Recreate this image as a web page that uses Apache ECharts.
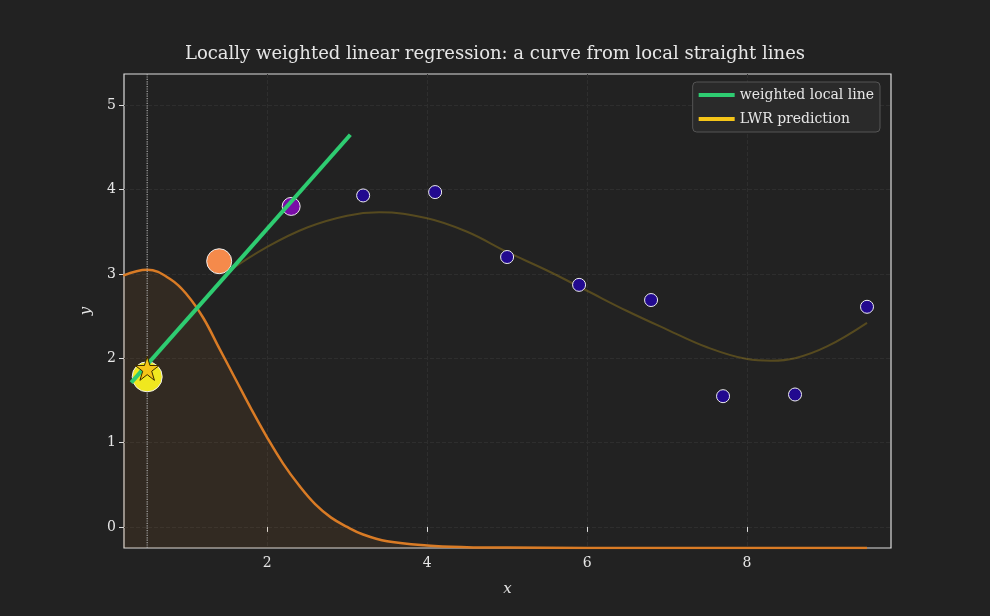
<!DOCTYPE html>
<html><head><meta charset="utf-8">
<script src="https://cdn.jsdelivr.net/npm/echarts@6/dist/echarts.min.js"></script>
<style>html,body{margin:0;background:#222;}#c{width:990px;height:616px;}</style>
</head><body><div id="c"></div>
<script>
const pointsX = [0.5,1.4,2.3,3.2,4.1,5.0,5.9,6.8,7.7,8.6,9.5];
const pointsY = [1.78,3.15,3.80,3.93,3.97,3.20,2.87,2.69,1.55,1.57,2.61];
const pointColors = ['#f0e81f','#f58a4b','#7a0ca8','#22098f','#22098f','#22098f','#22098f','#22098f','#22098f','#22098f','#22098f'];
const pointSizes = [30,25,18,13,13,13,13,13,13,13,13];
const weightX = [0.2,0.5,0.8,1.0,1.2,1.4,1.6,1.8,2.0,2.2,2.4,2.6,2.8,3.0,3.2,3.5,4.0,4.5,5.0,6.0,7.0,8.0,9.0,9.5];
const weightY = [2.98,3.05,2.93,2.75,2.48,2.12,1.76,1.40,1.06,0.75,0.49,0.27,0.11,0.0,-0.09,-0.17,-0.22,-0.24,-0.245,-0.25,-0.25,-0.25,-0.25,-0.25];
const predX = [1.5,2.0,2.5,3.0,3.4,4.0,4.5,5.0,5.5,6.0,6.5,7.0,7.5,8.0,8.3,8.6,9.0,9.5];
const predY = [3.02,3.32,3.55,3.69,3.73,3.66,3.50,3.26,3.04,2.80,2.56,2.34,2.13,1.99,1.97,2.00,2.14,2.42];
const localLineX = [0.3,3.04];
const localLineY = [1.71,4.65];
const xTicks = [2,4,6,8];
const yTicks = [0,1,2,3,4,5];
const queryX = 0.5, queryY = 1.88;

const font = 'DejaVu Serif';
const chart = echarts.init(document.getElementById('c'));
chart.setOption({
  backgroundColor:'#222222',
  animation:false,
  title:{text:'Locally weighted linear regression: a curve from local straight lines',left:'center',top:40,
    textStyle:{fontFamily:font,fontSize:18,fontWeight:'normal',color:'#e6e6e6'}},
  grid:{left:124,right:99,top:74,bottom:68,show:true,borderColor:'#dddddd',borderWidth:1.2},
  legend:{right:110,top:82,orient:'vertical',itemWidth:36,itemHeight:4,itemGap:10,
    backgroundColor:'#2a2a2a',borderColor:'#555',borderWidth:1,borderRadius:4,padding:[6,6,6,6],
    textStyle:{fontFamily:font,fontSize:14,color:'#e6e6e6'},
    data:[{name:'weighted local line',icon:'rect',itemStyle:{color:'#2ecc71'}},{name:'LWR prediction',icon:'rect',itemStyle:{color:'#f5c518'}}]},
  xAxis:{type:'value',min:0.21,max:9.8,
    name:'x',nameLocation:'middle',nameGap:34,nameTextStyle:{fontFamily:font,fontStyle:'italic',fontSize:15,color:'#e6e6e6'},
    axisLine:{show:false},
    axisLabel:{fontFamily:font,fontSize:14,color:'#e6e6e6',customValues:xTicks},
    axisTick:{show:true,customValues:xTicks,lineStyle:{color:'#ddd'}},
    splitLine:{show:true,lineStyle:{color:'#2e2e2e',type:'dashed'}}},
  yAxis:{type:'value',min:-0.25,max:5.37,
    name:'y',nameLocation:'middle',nameGap:30,nameTextStyle:{fontFamily:font,fontStyle:'italic',fontSize:15,color:'#e6e6e6'},
    axisLine:{show:false},
    axisLabel:{fontFamily:font,fontSize:14,color:'#e6e6e6',customValues:yTicks},
    axisTick:{show:true,customValues:yTicks,lineStyle:{color:'#ddd'}},
    splitLine:{show:true,lineStyle:{color:'#2e2e2e',type:'dashed'}}},
  series:[
    {type:'line',name:'weight',data:weightX.map((x,i)=>[x,weightY[i]]),smooth:0.4,symbol:'none',
      lineStyle:{color:'#d97b25',width:2.5},areaStyle:{color:'rgba(217,123,37,0.12)',origin:'start'},z:2},
    {type:'line',name:'LWR prediction',data:predX.map((x,i)=>[x,predY[i]]),smooth:0.4,symbol:'none',
      lineStyle:{color:'rgba(245,197,24,0.25)',width:2},itemStyle:{color:'#f5c518'},z:3},
    {type:'line',name:'vline',data:[[queryX,-0.25],[queryX,5.37]],symbol:'none',
      lineStyle:{color:'#aaa',width:1.2,type:'dotted'},z:3},
    {type:'scatter',name:'points',data:pointsX.map((x,i)=>({value:[x,pointsY[i]],symbolSize:pointSizes[i],itemStyle:{color:pointColors[i]}})),
      itemStyle:{borderColor:'#eeeeee',borderWidth:1,opacity:1},z:4},
    {type:'line',name:'weighted local line',data:localLineX.map((x,i)=>[x,localLineY[i]]),symbol:'none',
      lineStyle:{color:'#2ecc71',width:4},itemStyle:{color:'#2ecc71'},z:5},
    {type:'scatter',name:'query',data:[[queryX,queryY]],symbol:'path://M50,0 L61,35 L98,35 L68,57 L79,92 L50,70 L21,92 L32,57 L2,35 L39,35 Z',
      symbolSize:24,itemStyle:{color:'#f5c518',borderColor:'#3a2a00',borderWidth:1,opacity:1},z:6}
  ]
});
</script></body></html>
